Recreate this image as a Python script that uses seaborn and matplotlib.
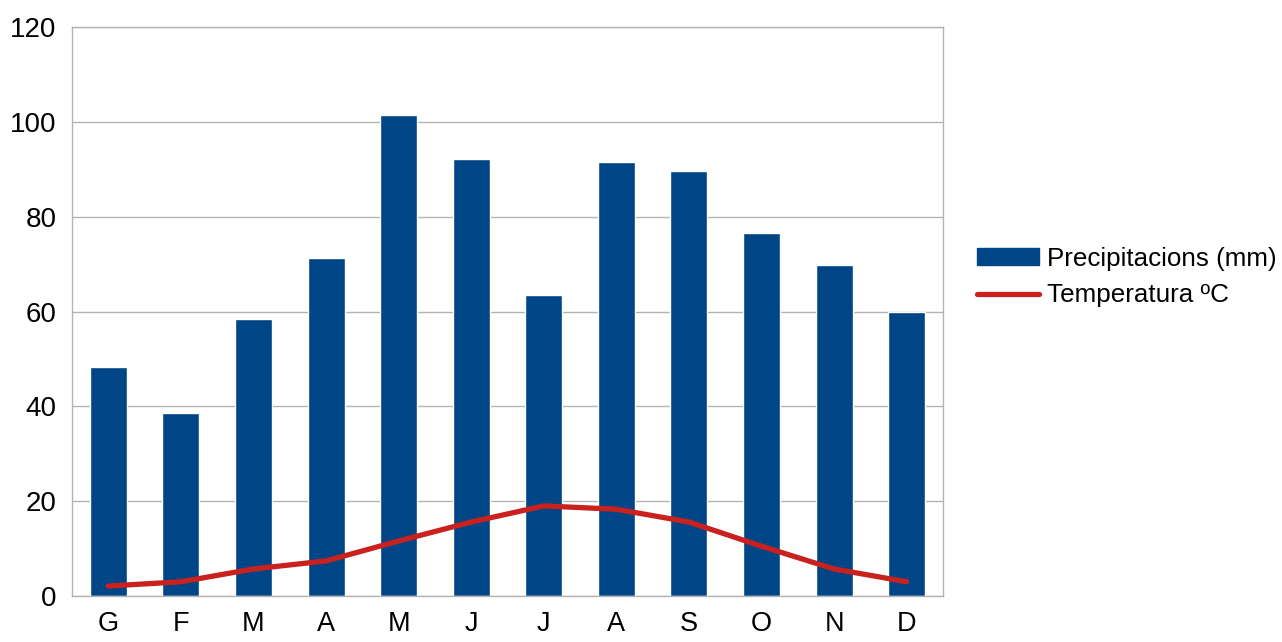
import pandas as pd
import matplotlib.pyplot as plt
import seaborn as sns
from matplotlib.patches import Patch
from matplotlib.lines import Line2D

mesos = ["G", "F", "M", "A", "M", "J", "J", "A", "S", "O", "N", "D"]
precipitacions = [48.3, 38.6, 58.4, 71.3, 101.4, 92.2, 63.5, 91.5, 89.6, 76.5, 69.8, 59.9]
temperatura = [2.1, 3.0, 5.7, 7.4, 11.6, 15.6, 19.0, 18.3, 15.6, 10.5, 5.7, 3.0]

sns.set_style("white")
plt.rcParams['font.family'] = ['Liberation Sans', 'DejaVu Sans']
plt.rcParams['text.color'] = 'black'
plt.rcParams['xtick.color'] = 'black'
plt.rcParams['ytick.color'] = 'black'

blau = "#004586"
vermell = "#c9211e"
gris = "#b3b3b3"

df = pd.DataFrame({
    "pos": range(len(mesos)),
    "precipitacions": precipitacions,
    "temperatura": temperatura,
})

fig = plt.figure(figsize=(12.82, 6.42), dpi=100)
ax = fig.add_axes([72 / 1282, 46 / 642, 871 / 1282, 569 / 642])

sns.barplot(data=df, x="pos", y="precipitacions", color=blau, width=0.51,
            saturation=1, ax=ax, zorder=2)
sns.lineplot(data=df, x="pos", y="temperatura", color=vermell, linewidth=3.8,
             ax=ax, zorder=3)

ax.set_xlim(-0.5, len(mesos) - 0.5)
ax.set_ylim(0, 120)
ax.set_yticks(range(0, 121, 20))
ax.yaxis.grid(True, color=gris, linewidth=1, zorder=0)
ax.set_axisbelow(True)

ax.set_xticks(range(len(mesos)))
ax.set_xticklabels(mesos)
ax.set_xticks([i - 0.5 for i in range(len(mesos) + 1)], minor=True)
ax.tick_params(axis="x", which="major", length=0, pad=10.5, labelsize=19.5)
ax.tick_params(axis="x", which="minor", length=7, color=gris, width=1)
ax.tick_params(axis="y", length=7, color=gris, width=1, labelsize=20, pad=4)
ax.set_xlabel("")
ax.set_ylabel("")

for s in ax.spines.values():
    s.set_color(gris)
    s.set_linewidth(1)

handles = [
    Patch(facecolor=blau, edgecolor=blau),
    Line2D([0], [0], color=vermell, linewidth=3.8),
]
fig.legend(handles, ["Precipitacions (mm)", "Temperatura ºC"],
           loc="center left", bbox_to_anchor=(977 / 1282, 1 - 277 / 642),
           frameon=False, fontsize=18.7, handlelength=2.4, handleheight=0.65,
           handletextpad=0.3, labelspacing=0.5, borderaxespad=0,
           borderpad=0)

fig.savefig("out.png", dpi=100)
